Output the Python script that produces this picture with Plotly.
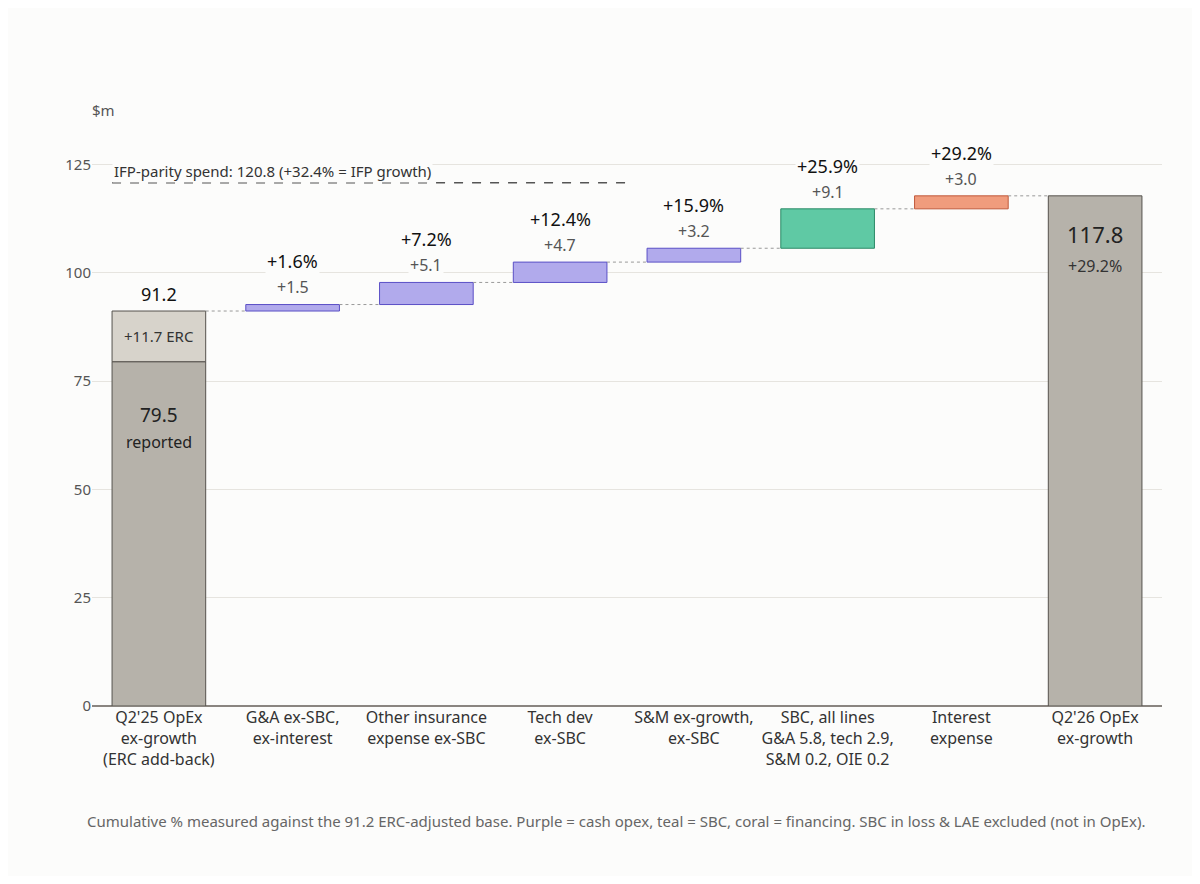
import plotly.graph_objects as go

# data
cats = ["Q2'25 OpEx<br>ex-growth<br>(ERC add-back)", "G&A ex-SBC,<br>ex-interest",
        "Other insurance<br>expense ex-SBC", "Tech dev<br>ex-SBC", "S&M ex-growth,<br>ex-SBC",
        "SBC, all lines<br>G&A 5.8, tech 2.9,<br>S&M 0.2, OIE 0.2", "Interest<br>expense",
        "Q2'26 OpEx<br>ex-growth"]
reported = 79.5
erc = 11.7
start = 91.2
steps = [1.5, 5.1, 4.7, 3.2, 9.1, 3.0]
step_pct = ["+1.6%", "+7.2%", "+12.4%", "+15.9%", "+25.9%", "+29.2%"]
end = 117.8
end_pct = "+29.2%"
ifp = 120.8
ifp_text = "IFP-parity spend: 120.8 (+32.4% = IFP growth)"

PURPLE = ("#b1aaec", "#5a4fc6")
TEAL = ("#5fc9a4", "#2b8a66")
CORAL = ("#f09c7d", "#c05a3c")
step_cols = [PURPLE, PURPLE, PURPLE, PURPLE, TEAL, CORAL]

x = list(range(len(cats)))
fig = go.Figure()
W = 0.7

fig.add_bar(x=[0], y=[reported], base=[0], width=W, marker=dict(color="#b6b2aa", line=dict(color="#55524d", width=1)))
fig.add_bar(x=[0], y=[erc], base=[reported], width=W, marker=dict(color="#d7d3cb", line=dict(color="#55524d", width=1)))

level = start
tops = []
for i, (s, c) in enumerate(zip(steps, step_cols)):
    fig.add_bar(x=[i + 1], y=[s], base=[level], width=W, marker=dict(color=c[0], line=dict(color=c[1], width=1)))
    fig.add_shape(type="line", x0=i + W / 2, x1=i + 1 - W / 2, y0=level, y1=level,
                  line=dict(color="#999", width=1, dash="dot"))
    level += s
    tops.append(level)
fig.add_shape(type="line", x0=len(steps) + W / 2, x1=len(steps) + 1 - W / 2, y0=level, y1=level,
              line=dict(color="#999", width=1, dash="dot"))
fig.add_bar(x=[7], y=[end], base=[0], width=W, marker=dict(color="#b6b2aa", line=dict(color="#55524d", width=1)))

for i, (s, p, t) in enumerate(zip(steps, step_pct, tops)):
    fig.add_annotation(x=i + 1, y=t + 4, text="+%.1f" % s, showarrow=False, font=dict(size=16, color="#555"),
                       bgcolor="#fcfcfb")
    fig.add_annotation(x=i + 1, y=t + 10, text=p, showarrow=False, font=dict(size=18, color="#111"),
                       bgcolor="#fcfcfb")

fig.add_annotation(x=0, y=start + 4, text="%.1f" % start, showarrow=False, font=dict(size=18, color="#111"))
fig.add_annotation(x=0, y=reported + erc / 2, text="+%.1f ERC" % erc, showarrow=False, font=dict(size=15, color="#333"))
fig.add_annotation(x=0, y=reported - 12.4, text="%.1f" % reported, showarrow=False, font=dict(size=19, color="#222"))
fig.add_annotation(x=0, y=reported - 18.6, text="reported", showarrow=False, font=dict(size=16, color="#222"))
fig.add_annotation(x=7, y=end - 8.9, text="%.1f" % end, showarrow=False, font=dict(size=22, color="#222"))
fig.add_annotation(x=7, y=end - 16.3, text=end_pct, showarrow=False, font=dict(size=16, color="#333"))

fig.add_shape(type="line", x0=-0.35, x1=3.52, y0=ifp, y1=ifp, line=dict(color="#555", width=1.5, dash="dash"))
fig.add_annotation(x=-0.35, y=ifp + 2.7, text=ifp_text, showarrow=False, xanchor="left",
                   font=dict(size=15, color="#333"), bgcolor="#fcfcfb")

fig.add_annotation(xref="paper", yref="paper", x=-0.002, y=1.08, text="$m", showarrow=False,
                   xanchor="left", font=dict(size=15, color="#555"))
fig.add_annotation(xref="paper", yref="paper", x=0.49, y=-0.225, text="Cumulative % measured against the 91.2 ERC-adjusted base. Purple = cash opex, teal = SBC, coral = financing. SBC in loss & LAE excluded (not in OpEx).",
                   showarrow=False, font=dict(size=15, color="#666"))

fig.update_layout(
    width=1184, height=868, barmode="overlay", showlegend=False,
    paper_bgcolor="#fcfcfb", plot_bgcolor="#fcfcfb",
    margin=dict(l=84, r=30, t=135, b=170),
    font=dict(family="Noto Sans, Open Sans, sans-serif", color="#333"),
    xaxis=dict(tickvals=x, ticktext=cats, range=[-0.5, 7.5], showgrid=False, tickfont=dict(size=16, color="#333")),
    yaxis=dict(range=[0, 130], tickvals=[0, 25, 50, 75, 100, 125], gridcolor="#e6e4df",
               zeroline=True, zerolinecolor="#8a8580", zerolinewidth=1.5, tickfont=dict(size=15, color="#555")),
)
fig.write_html("out.html")
